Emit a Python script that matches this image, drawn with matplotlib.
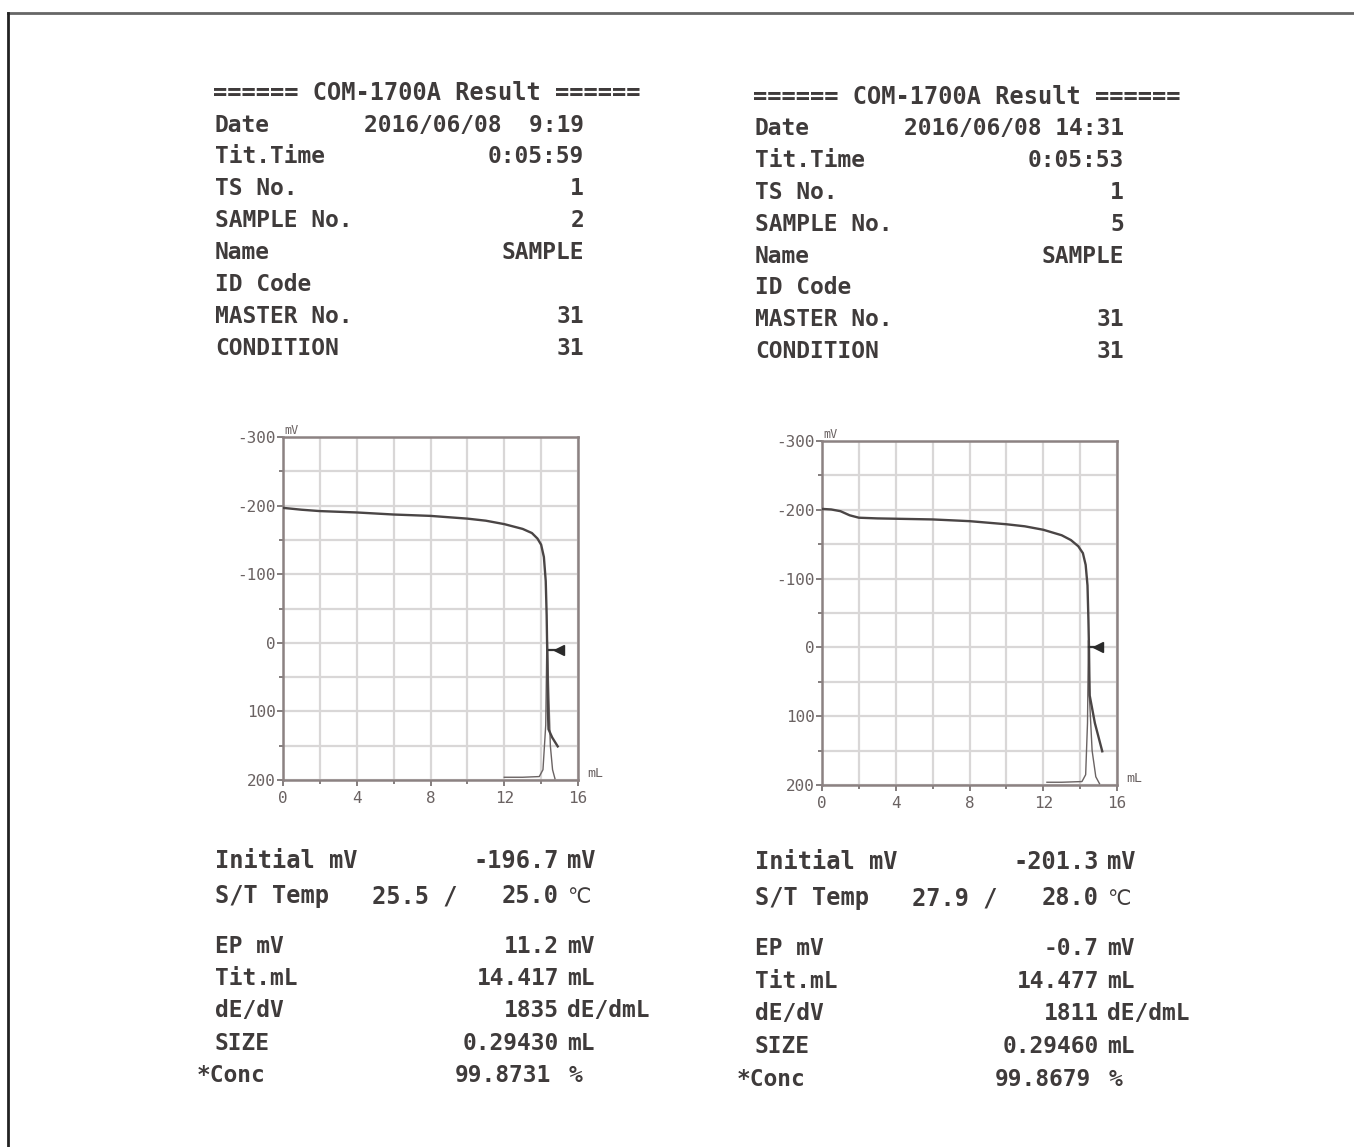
import matplotlib.pyplot as plt
from matplotlib.lines import Line2D

W, H = 1354, 1147

# ---- printout A (left) ----
vol_a = [0, 1, 2, 4, 6, 8, 10, 11, 12, 13, 13.5, 13.8, 14.0, 14.15, 14.25, 14.3,
         14.33, 14.35, 14.37, 14.4, 14.6, 14.9]
mv_a = [-196.7, -194, -192, -190, -187, -185, -181, -178, -173, -166, -160, -152,
        -143, -125, -90, -40, 11, 60, 100, 126, 138, 151]
der_vol_a = [12.0, 13.0, 13.9, 14.1, 14.25, 14.32, 14.4, 14.5, 14.62, 14.75]
der_a = [196, 196, 195, 185, 120, -20, 60, 150, 185, 198]
ep_a = (14.417, 11.2)

# ---- printout B (right) ----
vol_b = [0, 0.5, 1, 1.5, 2, 3, 4, 6, 8, 10, 11, 12, 13, 13.5, 13.9, 14.15, 14.3,
         14.4, 14.45, 14.48, 14.5, 14.52, 14.8, 15.2]
mv_b = [-201.3, -200.5, -198, -192, -188.5, -187.5, -187, -186, -183.5, -179, -176,
        -171, -163, -156, -147, -137, -120, -90, -40, 0, 40, 70, 110, 151]
der_vol_b = [12.2, 13.0, 14.1, 14.3, 14.4, 14.45, 14.5, 14.65, 14.85, 15.05]
der_b = [196, 196, 195, 185, 110, -10, 70, 150, 188, 198]
ep_b = (14.477, -0.7)

head_labels = ["Date", "Tit.Time", "TS No.", "SAMPLE No.", "Name", "ID Code",
               "MASTER No.", "CONDITION"]
head_a = ["2016/06/08  9:19", "0:05:59", "1", "2", "SAMPLE", "", "31", "31"]
head_b = ["2016/06/08 14:31", "0:05:53", "1", "5", "SAMPLE", "", "31", "31"]

res_labels = ["EP mV", "Tit.mL", "dE/dV", "SIZE", "*Conc"]
res_units = ["mV", "mL", "dE/dmL", "mL", "%"]
res_a = ["11.2", "14.417", "1835", "0.29430", "99.8731"]
res_b = ["-0.7", "14.477", "1811", "0.29460", "99.8679"]

init_a, temp_a = "-196.7", ("25.5 /", "25.0")
init_b, temp_b = "-201.3", ("27.9 /", "28.0")

INK = "#3f3b3b"
MONO = ["DejaVu Sans Mono", "DejaVu Sans"]

fig = plt.figure(figsize=(W / 100, H / 100), dpi=100)
fig.patch.set_facecolor("white")


def put(x, y, s, ha="left", size=16.5, weight="bold"):
    # x, y in pixels; y is the vertical centre of capital letters
    fig.text(x / W, 1 - (y + 8) / H, s, ha=ha, va="baseline", fontsize=size,
             family=MONO, weight=weight, color=INK)


# scanned page border (top and left edges only)
fig.add_artist(Line2D([8 / W, 1], [1 - 13 / H, 1 - 13 / H], color="#666666", lw=2))
fig.add_artist(Line2D([8 / W, 8 / W], [1 - 13 / H, 0], color="#222222", lw=2))


def panel(x0, ytop, vals, init, temp, res, ax_box, vol, mv, dvol, der, ep,
          rows_top, rows_bot):
    lx, rx = x0, x0 + 369
    put(lx - 2, ytop, "====== COM-1700A Result ======", size=17)
    for i, lab in enumerate(head_labels):
        y = rows_top[0] + i * rows_top[1]
        put(lx, y, lab)
        if vals[i]:
            put(rx, y, vals[i], ha="right")

    nx = x0 + 344   # right edge of numbers in the result block
    ux = x0 + 352   # left edge of units
    y0, y1 = rows_bot[0], rows_bot[1]
    put(lx, y0, "Initial mV", size=17)
    put(nx, y0, init, ha="right", size=17)
    put(ux, y0, "mV", size=17)
    put(lx, y1, "S/T Temp", size=17)
    put(x0 + 157, y1, temp[0], size=17)
    put(nx, y1, temp[1], ha="right", size=17)
    put(ux, y1, "℃", size=15, weight="normal")
    for i, lab in enumerate(res_labels):
        y = rows_bot[2] + i * rows_bot[3]
        put(lx - (18 if lab.startswith("*") else 0), y, lab)
        if lab == "*Conc":
            put(nx - 8, y, res[i], ha="right")
            put(ux + 2, y, res_units[i])
        else:
            put(nx, y, res[i], ha="right")
            put(ux, y, res_units[i])

    # titration chart
    l, t, r, b = ax_box
    ax = fig.add_axes([l / W, 1 - b / H, (r - l) / W, (b - t) / H])
    ax.set_xlim(0, 16)
    ax.set_ylim(200, -300)
    ax.set_xticks([0, 4, 8, 12, 16])
    ax.set_xticks(range(0, 17, 2), minor=True)
    ax.set_yticks([-300, -200, -100, 0, 100, 200])
    ax.set_yticks(range(-300, 201, 50), minor=True)
    ax.set_yticklabels(["-300", "-200", "-100", "0", "100", "200"])
    ax.grid(True, which="both", color="#d9d7d7", lw=1.6)
    ax.set_axisbelow(True)
    for sp in ax.spines.values():
        sp.set_color("#8c8282")
        sp.set_linewidth(1.8)
    ax.tick_params(which="both", direction="out", length=4, width=1.2,
                   color="#6f6868", labelsize=11.5, labelcolor="#6a6262", pad=1)
    ax.tick_params(axis="x", pad=4)
    ax.tick_params(which="minor", length=3)
    for lb in ax.get_xticklabels() + ax.get_yticklabels():
        lb.set_family(MONO)

    ax.plot(dvol, der, color="#6a6363", lw=1.0, zorder=3)
    ax.plot(vol, mv, color="#4a4545", lw=1.7, zorder=4)
    ax.plot([ep[0], 14.95], [ep[1], ep[1]], color="#333333", lw=1.6, zorder=5)
    ax.plot([14.95], [ep[1]], marker="<", color="#2a2a2a", ms=7, zorder=5)

    ax.text(0.005, 1.0, "mV", transform=ax.transAxes, ha="left", va="bottom",
            fontsize=8.5, color="#6a6262", family=MONO)
    ax.text(1.03, 0.0, "mL", transform=ax.transAxes, ha="left", va="bottom",
            fontsize=9.5, color="#6a6262", family=MONO)


panel(215, 92, head_a, init_a, temp_a, res_a, (283, 437, 578, 780),
      vol_a, mv_a, der_vol_a, der_a, ep_a, (123.5, 31.9), (860, 895, 945, 32.2))
panel(755, 96, head_b, init_b, temp_b, res_b, (822, 441, 1117, 785),
      vol_b, mv_b, der_vol_b, der_b, ep_b, (127, 31.9), (861, 897, 947, 32.7))

fig.savefig("out.png", dpi=100, facecolor="white")
